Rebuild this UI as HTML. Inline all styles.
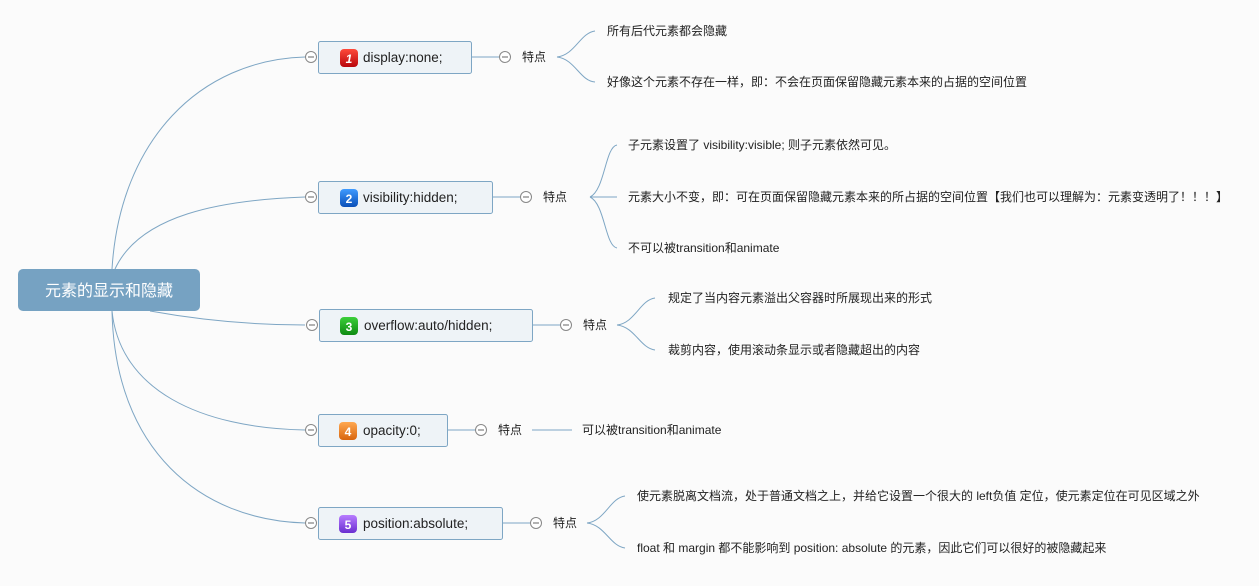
<!DOCTYPE html>
<html><head><meta charset="utf-8"><style>
html,body{margin:0;padding:0;background:#fbfbfb;}
svg text{font-family:"Liberation Sans","Noto Sans CJK SC",sans-serif;}
</style></head><body>
<svg width="1259" height="581" viewBox="0 0 1259 581" xmlns="http://www.w3.org/2000/svg">
<defs>
<linearGradient id="g1" x1="0" y1="0" x2="0" y2="1"><stop offset="0" stop-color="#ff4a3a"/><stop offset="1" stop-color="#b8060c"/></linearGradient>
<linearGradient id="g2" x1="0" y1="0" x2="0" y2="1"><stop offset="0" stop-color="#3f9bff"/><stop offset="1" stop-color="#0a4fb8"/></linearGradient>
<linearGradient id="g3" x1="0" y1="0" x2="0" y2="1"><stop offset="0" stop-color="#3ccf3a"/><stop offset="1" stop-color="#0e8a12"/></linearGradient>
<linearGradient id="g4" x1="0" y1="0" x2="0" y2="1"><stop offset="0" stop-color="#ffa850"/><stop offset="1" stop-color="#d8650e"/></linearGradient>
<linearGradient id="g5" x1="0" y1="0" x2="0" y2="1"><stop offset="0" stop-color="#b77cff"/><stop offset="1" stop-color="#6a2fd0"/></linearGradient>
</defs>
<g fill="none" stroke="#7ea6c4" stroke-width="1">
<path d="M112 269 C 120 140, 200 60, 305 57"/>
<path d="M115 269 C 140 215, 220 200, 305 197"/>
<path d="M150 311 C 200 320, 250 325, 305 325"/>
<path d="M112 311 C 120 390, 200 428, 305 430"/>
<path d="M112 311 C 115 450, 200 520, 305 523"/>
<path d="M471 57 H500"/><path d="M492 197 H521"/><path d="M532 325 H561"/><path d="M447 430 H476"/><path d="M502 523 H531"/>
<path d="M557 57 C 575 55, 580 33, 595 31"/><path d="M557 57 C 575 59, 580 81, 595 82"/>
<path d="M590 197 C 605 190, 605 147, 617 145"/><path d="M590 197 H617"/><path d="M590 197 C 605 204, 605 246, 617 248"/>
<path d="M617 325 C 635 323, 640 300, 655 298"/><path d="M617 325 C 635 327, 640 348, 655 350"/>
<path d="M532 430 H572"/>
<path d="M587 523 C 605 521, 610 498, 625 496"/><path d="M587 523 C 605 525, 610 546, 625 548"/>
</g>
<rect x="18" y="269" width="182" height="42" rx="5" fill="#76a2c2"/>
<text x="109" y="296" fill="#fff" font-size="16" text-anchor="middle">元素的显示和隐藏</text>
<g stroke="#7ea6c4" fill="#eef3f7">
<rect x="318.5" y="41.5" width="153" height="32" rx="2"/>
<rect x="318.5" y="181.5" width="174" height="32" rx="2"/>
<rect x="319.5" y="309.5" width="213" height="32" rx="2"/>
<rect x="318.5" y="414.5" width="129" height="32" rx="2"/>
<rect x="318.5" y="507.5" width="184" height="32" rx="2"/>
</g>
<g fill="#fff" stroke="#888" stroke-width="1">
<circle cx="311" cy="57" r="5.5"/><circle cx="311" cy="197" r="5.5"/><circle cx="312" cy="325" r="5.5"/><circle cx="311" cy="430" r="5.5"/><circle cx="311" cy="523" r="5.5"/>
<circle cx="505" cy="57" r="5.5"/><circle cx="526" cy="197" r="5.5"/><circle cx="566" cy="325" r="5.5"/><circle cx="481" cy="430" r="5.5"/><circle cx="536" cy="523" r="5.5"/>
</g>
<g stroke="#666" stroke-width="1">
<path d="M308 57h6M308 197h6M309 325h6M308 430h6M308 523h6M502 57h6M523 197h6M563 325h6M478 430h6M533 523h6"/>
</g>
<rect x="340" y="49" width="18" height="18" rx="4" fill="url(#g1)"/>
<rect x="340" y="189" width="18" height="18" rx="4" fill="url(#g2)"/>
<rect x="340" y="317" width="18" height="18" rx="4" fill="url(#g3)"/>
<rect x="339" y="422" width="18" height="18" rx="4" fill="url(#g4)"/>
<rect x="339" y="515" width="18" height="18" rx="4" fill="url(#g5)"/>
<g fill="#fff" font-size="12" font-weight="bold" text-anchor="middle">
<text x="349" y="63" font-style="italic">1</text><text x="349" y="203">2</text><text x="349" y="331">3</text><text x="348" y="436">4</text><text x="348" y="529">5</text>
</g>
<g fill="#222" font-size="13.5">
<text x="363" y="62">display:none;</text>
<text x="363" y="202">visibility:hidden;</text>
<text x="364" y="330">overflow:auto/hidden;</text>
<text x="363" y="435">opacity:0;</text>
<text x="363" y="528">position:absolute;</text>
</g>
<g fill="#222" font-size="12">
<text x="522" y="61">特点</text><text x="543" y="201">特点</text><text x="583" y="329">特点</text><text x="498" y="434">特点</text><text x="553" y="527">特点</text>
<text x="607" y="35">所有后代元素都会隐藏</text>
<text x="607" y="86">好像这个元素不存在一样，即：不会在页面保留隐藏元素本来的占据的空间位置</text>
<text x="628" y="149">子元素设置了 visibility:visible; 则子元素依然可见。</text>
<text x="628" y="201">元素大小不变，即：可在页面保留隐藏元素本来的所占据的空间位置【我们也可以理解为：元素变透明了！！！】</text>
<text x="628" y="252">不可以被transition和animate</text>
<text x="668" y="302">规定了当内容元素溢出父容器时所展现出来的形式</text>
<text x="668" y="354">裁剪内容，使用滚动条显示或者隐藏超出的内容</text>
<text x="582" y="434">可以被transition和animate</text>
<text x="637" y="500">使元素脱离文档流，处于普通文档之上，并给它设置一个很大的 left负值 定位，使元素定位在可见区域之外</text>
<text x="637" y="552">float 和 margin 都不能影响到 position: absolute 的元素，因此它们可以很好的被隐藏起来</text>
</g>
</svg>
</body></html>
